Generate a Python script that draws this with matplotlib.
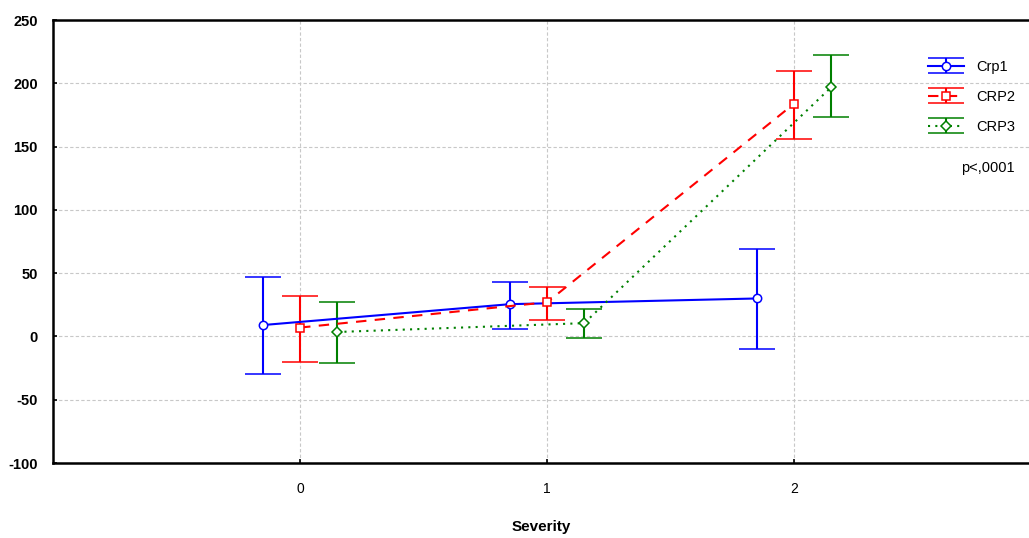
import matplotlib.pyplot as plt
import matplotlib

matplotlib.rcParams['font.family'] = ['Liberation Sans', 'DejaVu Sans']
matplotlib.rcParams['axes.unicode_minus'] = False

severity = [0, 1, 2]
series = ['Crp1', 'CRP2', 'CRP3']
means = {'Crp1': [9, 25.5, 30], 'CRP2': [7, 27, 184], 'CRP3': [3.5, 10.5, 197]}
upper = {'Crp1': [47, 43, 69], 'CRP2': [32, 39, 210], 'CRP3': [27, 22, 222]}
lower = {'Crp1': [-30, 6, -10], 'CRP2': [-20, 13, 156], 'CRP3': [-21, -1, 173]}

offsets = {'Crp1': -0.15, 'CRP2': 0.0, 'CRP3': 0.15}
colors = {'Crp1': '#0000ff', 'CRP2': '#ff0000', 'CRP3': '#008000'}
styles = {'Crp1': '-', 'CRP2': (0, (5, 4)), 'CRP3': (0, (1, 2.5))}
markers = {'Crp1': 'o', 'CRP2': 's', 'CRP3': 'D'}
msizes = {'Crp1': 6, 'CRP2': 6, 'CRP3': 5.5}

fig = plt.figure(figsize=(10.29, 5.38), dpi=100)
ax = fig.add_axes([0.0515, 0.1394, 0.9485, 0.8234])

for name in series:
    xs = [s + offsets[name] for s in severity]
    m = means[name]
    err = [[m[i] - lower[name][i] for i in range(3)], [upper[name][i] - m[i] for i in range(3)]]
    ax.errorbar(xs, m, yerr=err, color=colors[name], ls=styles[name], lw=1.5,
                marker=markers[name], markersize=msizes[name], markerfacecolor='white',
                markeredgecolor=colors[name], markeredgewidth=1.1,
                ecolor=colors[name], elinewidth=1.5, capsize=13, capthick=1.5,
                label=name, zorder=3)

ax.set_xlim(-1.0, 2.95)
ax.set_ylim(-100, 250)
ax.set_xticks(severity)
ax.set_yticks([-100, -50, 0, 50, 100, 150, 200, 250])
ax.grid(True, ls=(0, (3, 2)), color='#c8c8c8', lw=0.8, zorder=0)
ax.set_axisbelow(True)

ax.tick_params(axis='y', direction='in', length=3, width=1.2, labelsize=10.5, pad=11)
ax.tick_params(axis='x', direction='in', length=3, width=1.2, labelsize=10, pad=14)
for lab in ax.get_yticklabels():
    lab.set_fontweight('bold')

ax.spines['right'].set_visible(False)
for sp in ['left', 'bottom', 'top']:
    ax.spines[sp].set_linewidth(1.8)

ax.set_xlabel('Severity', fontsize=11, fontweight='bold', labelpad=17)

leg = ax.legend(loc='upper left', bbox_to_anchor=(0.883, 0.94), frameon=False,
                fontsize=10.5, handlelength=2.5, labelspacing=1.1, handletextpad=0.8)

ax.text(0.985, 0.665, 'p<,0001', transform=ax.transAxes, ha='right', va='center', fontsize=10.5)

plt.savefig('out.png', dpi=100)
